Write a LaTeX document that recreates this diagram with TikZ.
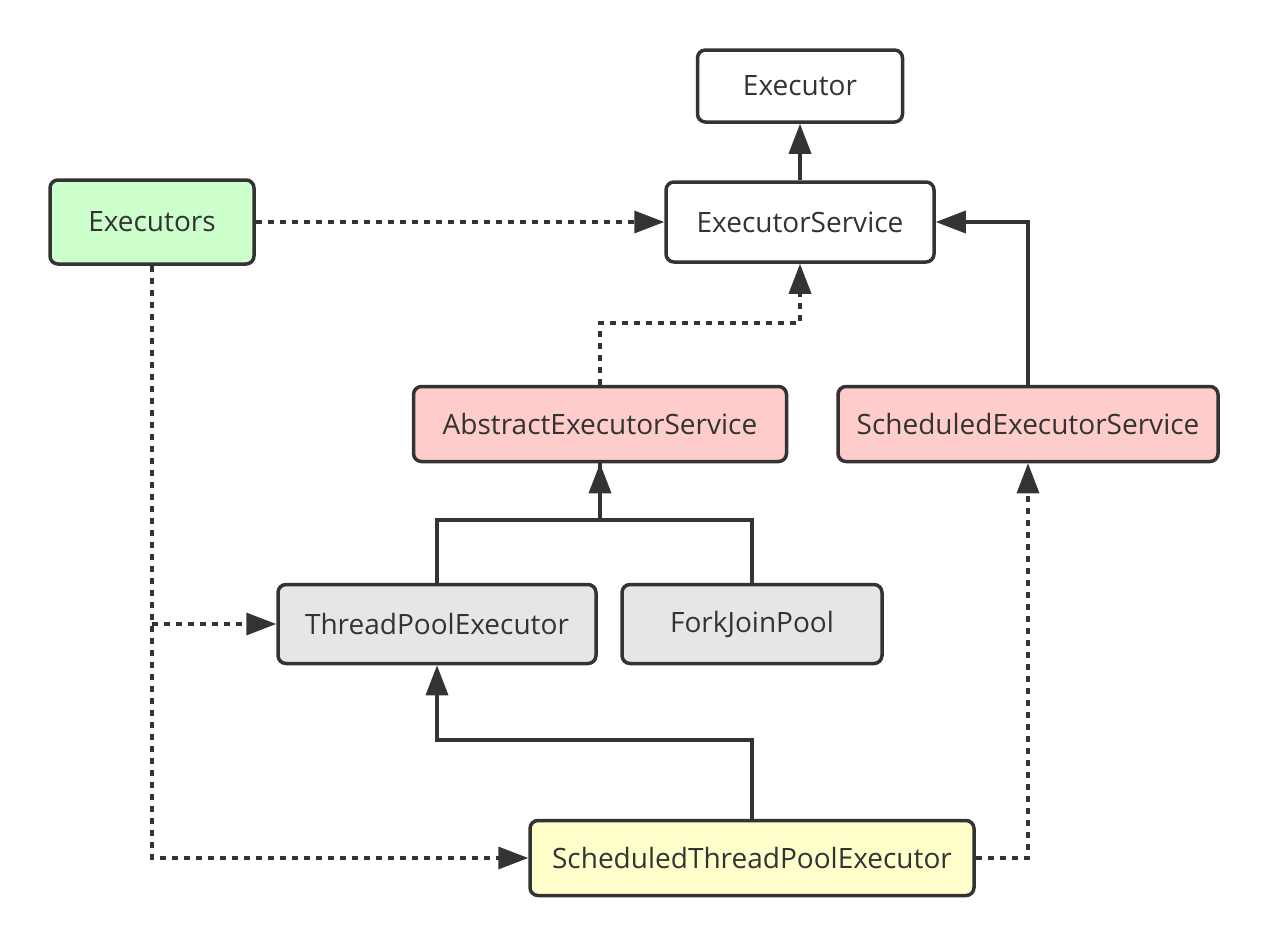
\documentclass[tikz,border=0pt]{standalone}
\usepackage{fontspec}
\setmainfont{Open Sans}
\usetikzlibrary{arrows.meta}

\definecolor{line}{HTML}{333333}
\definecolor{greenfill}{HTML}{CCFFCC}
\definecolor{pinkfill}{HTML}{FFCCCC}
\definecolor{grayfill}{HTML}{E6E6E6}
\definecolor{yellowfill}{HTML}{FFFFCC}

\tikzset{
  box/.style={draw=line, line width=3.5pt, rounded corners=8pt, text=line,
    font=\fontsize{28}{32}\selectfont, inner sep=0pt},
  link/.style={draw=line, line width=3.5pt, -{Triangle[length=30pt,width=22pt]}},
  dotlink/.style={link, dash pattern=on 6pt off 6pt},
}

\begin{document}
\begin{tikzpicture}[x=1pt,y=-1pt]
  \useasboundingbox (0,0) rectangle (1268,946);
  \node[box, fill=white, minimum width=205pt, minimum height=72pt] (ex) at (800,86) {Executor};
  \node[box, fill=white, minimum width=268pt, minimum height=80pt] (es) at (800,222) {ExecutorService};
  \node[box, fill=greenfill, minimum width=204pt, minimum height=84pt] (exs) at (152,222) {Executors};
  \node[box, fill=pinkfill, minimum width=373pt, minimum height=75pt] (aes) at (600,424) {AbstractExecutorService};
  \node[box, fill=pinkfill, minimum width=380pt, minimum height=75pt] (ses) at (1028,424) {ScheduledExecutorService};
  \node[box, fill=grayfill, minimum width=318pt, minimum height=79pt] (tpe) at (437,624) {ThreadPoolExecutor};
  \node[box, fill=grayfill, minimum width=260pt, minimum height=79pt] (fjp) at (752,624) {ForkJoinPool};
  \node[box, fill=yellowfill, minimum width=444pt, minimum height=75pt] (stpe) at (752,858) {ScheduledThreadPoolExecutor};

  \draw[link] (es) -- (ex);
  \draw[dotlink] (exs) -- (es);
  \draw[dotlink] (aes.north) -- ++(0,-62) -| (es.south);
  \draw[link] (ses.north) |- (es.east);
  \draw[link] (tpe.north) -- ++(0,-63) -| (aes.south);
  \draw[line, line width=3.5pt] (fjp.north) -- ++(0,-63) -| (aes.south);
  \draw[dotlink] (exs.south) |- (stpe.west);
  \draw[dotlink] (exs.south |- tpe.west) -- (tpe.west);
  \draw[link] (stpe.north) -- ++(0,-79) -| (tpe.south);
  \draw[dotlink] (stpe.east) -| (ses.south);
\end{tikzpicture}
\end{document}
